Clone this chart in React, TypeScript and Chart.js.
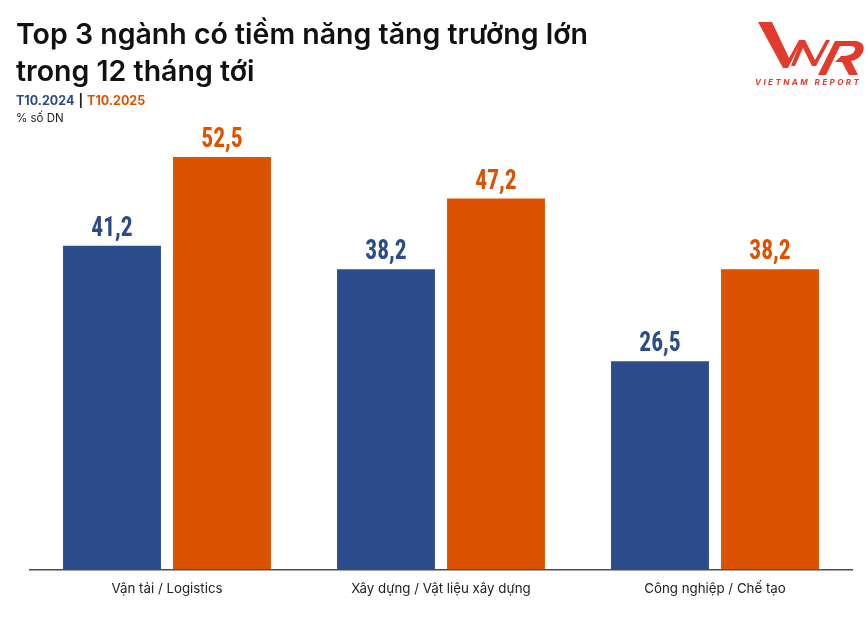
import React, { useEffect, useRef } from "react";
import { Chart, registerables } from "chart.js";

Chart.register(...registerables);

const categories = ["Vận tải / Logistics", "Xây dựng / Vật liệu xây dựng", "Công nghiệp / Chế tạo"];
const seriesNames = ["T10.2024", "T10.2025"];
const values2024 = [41.2, 38.2, 26.5];
const values2025 = [52.5, 47.2, 38.2];
const titleLines = ["Top 3 ngành có tiềm năng tăng trưởng lớn", "trong 12 tháng tới"];
const unitLabel = "% số DN";
const BLUE = "#2b4b8a";
const ORANGE = "#dc5200";
const LOGO_RED = "#e23b2c";
const FONT = "Inter, sans-serif";
const NARROW = '"Liberation Sans Narrow", "Roboto Condensed", sans-serif';

const overlayPlugin = {
  id: "overlay",
  afterDatasetsDraw(chart: any) {
    const { ctx } = chart;
    ctx.save();
    // value labels
    chart.data.datasets.forEach((ds: any, i: number) => {
      const meta = chart.getDatasetMeta(i);
      meta.data.forEach((bar: any, j: number) => {
        ctx.save();
        ctx.translate(bar.x, bar.y - 10);
        ctx.scale(0.87, 1);
        ctx.fillStyle = ds.backgroundColor;
        ctx.font = `bold 27px ${NARROW}`;
        ctx.textAlign = "center";
        ctx.textBaseline = "alphabetic";
        ctx.fillText(String(ds.data[j]).replace(".", ","), 0, 0);
        ctx.restore();
      });
    });
    // title
    ctx.textAlign = "left";
    ctx.textBaseline = "alphabetic";
    ctx.fillStyle = "#111111";
    ctx.font = `600 28.5px ${FONT}`;
    ctx.fillText(titleLines[0], 16, 44);
    ctx.fillText(titleLines[1], 16, 81);
    // subtitle
    ctx.font = `700 12.5px ${FONT}`;
    ctx.fillStyle = BLUE;
    ctx.fillText(seriesNames[0], 16, 105);
    let x = 16 + ctx.measureText(seriesNames[0]).width + 4;
    ctx.fillStyle = "#222";
    ctx.fillText("|", x, 105);
    x += ctx.measureText("|").width + 4;
    ctx.fillStyle = ORANGE;
    ctx.fillText(seriesNames[1], x, 105);
    ctx.font = `400 11.5px ${FONT}`;
    ctx.fillStyle = "#222";
    ctx.fillText(unitLabel, 16, 122);
    // logo
    ctx.fillStyle = LOGO_RED;
    const poly = (pts: number[][]) => {
      ctx.beginPath();
      pts.forEach((p, k) => (k ? ctx.lineTo(p[0], p[1]) : ctx.moveTo(p[0], p[1])));
      ctx.closePath();
      ctx.fill();
    };
    poly([[758, 22], [772, 22], [789, 58], [799, 40], [802, 40], [788, 68], [783, 68]]);
    poly([[791, 66], [801, 40], [805, 40], [815, 60], [826, 40], [830, 40], [816, 66], [812, 66], [803, 48], [795, 66]]);
    ctx.beginPath();
    ctx.moveTo(835, 41);
    ctx.lineTo(856, 41);
    ctx.quadraticCurveTo(866, 43, 863, 52);
    ctx.quadraticCurveTo(859, 60, 851, 61);
    ctx.lineTo(858, 75);
    ctx.lineTo(849, 75);
    ctx.lineTo(842, 62);
    ctx.lineTo(835, 62);
    ctx.lineTo(841, 56);
    ctx.quadraticCurveTo(853, 56, 855, 50);
    ctx.quadraticCurveTo(856, 46, 850, 46);
    ctx.lineTo(840, 46);
    ctx.lineTo(826, 75);
    ctx.lineTo(818, 75);
    ctx.closePath();
    ctx.fill();
    ctx.font = `italic 700 8px ${FONT}`;
    ctx.letterSpacing = "2.45px";
    ctx.fillText("VIETNAM REPORT", 755, 85);
    ctx.restore();
  },
};

export default function App() {
  const ref = useRef<HTMLCanvasElement>(null);
  useEffect(() => {
    document.body.style.margin = "0";
    document.body.style.background = "#ffffff";
    const chart = new Chart(ref.current!, {
      type: "bar",
      data: {
        labels: categories,
        datasets: [
          { label: seriesNames[0], data: values2024, backgroundColor: BLUE, categoryPercentage: 0.803, barPercentage: 0.89 },
          { label: seriesNames[1], data: values2025, backgroundColor: ORANGE, categoryPercentage: 0.803, barPercentage: 0.89 },
        ],
      },
      options: {
        animation: false,
        responsive: false,
        layout: { padding: { left: 30, right: 16, top: 98, bottom: 13.5 } },
        plugins: { legend: { display: false }, tooltip: { enabled: false }, title: { display: false } },
        scales: {
          x: {
            grid: { display: false, drawTicks: false },
            border: { display: true, color: "#4a4a50", width: 1.5 },
            ticks: { color: "#222", font: { family: FONT, size: 13.3 }, padding: 11, maxRotation: 0 },
          },
          y: { display: false, min: 0, max: 60 },
        },
      },
      plugins: [overlayPlugin],
    });
    return () => chart.destroy();
  }, []);
  return <canvas ref={ref} width={868} height={621} style={{ display: "block" }} />;
}
